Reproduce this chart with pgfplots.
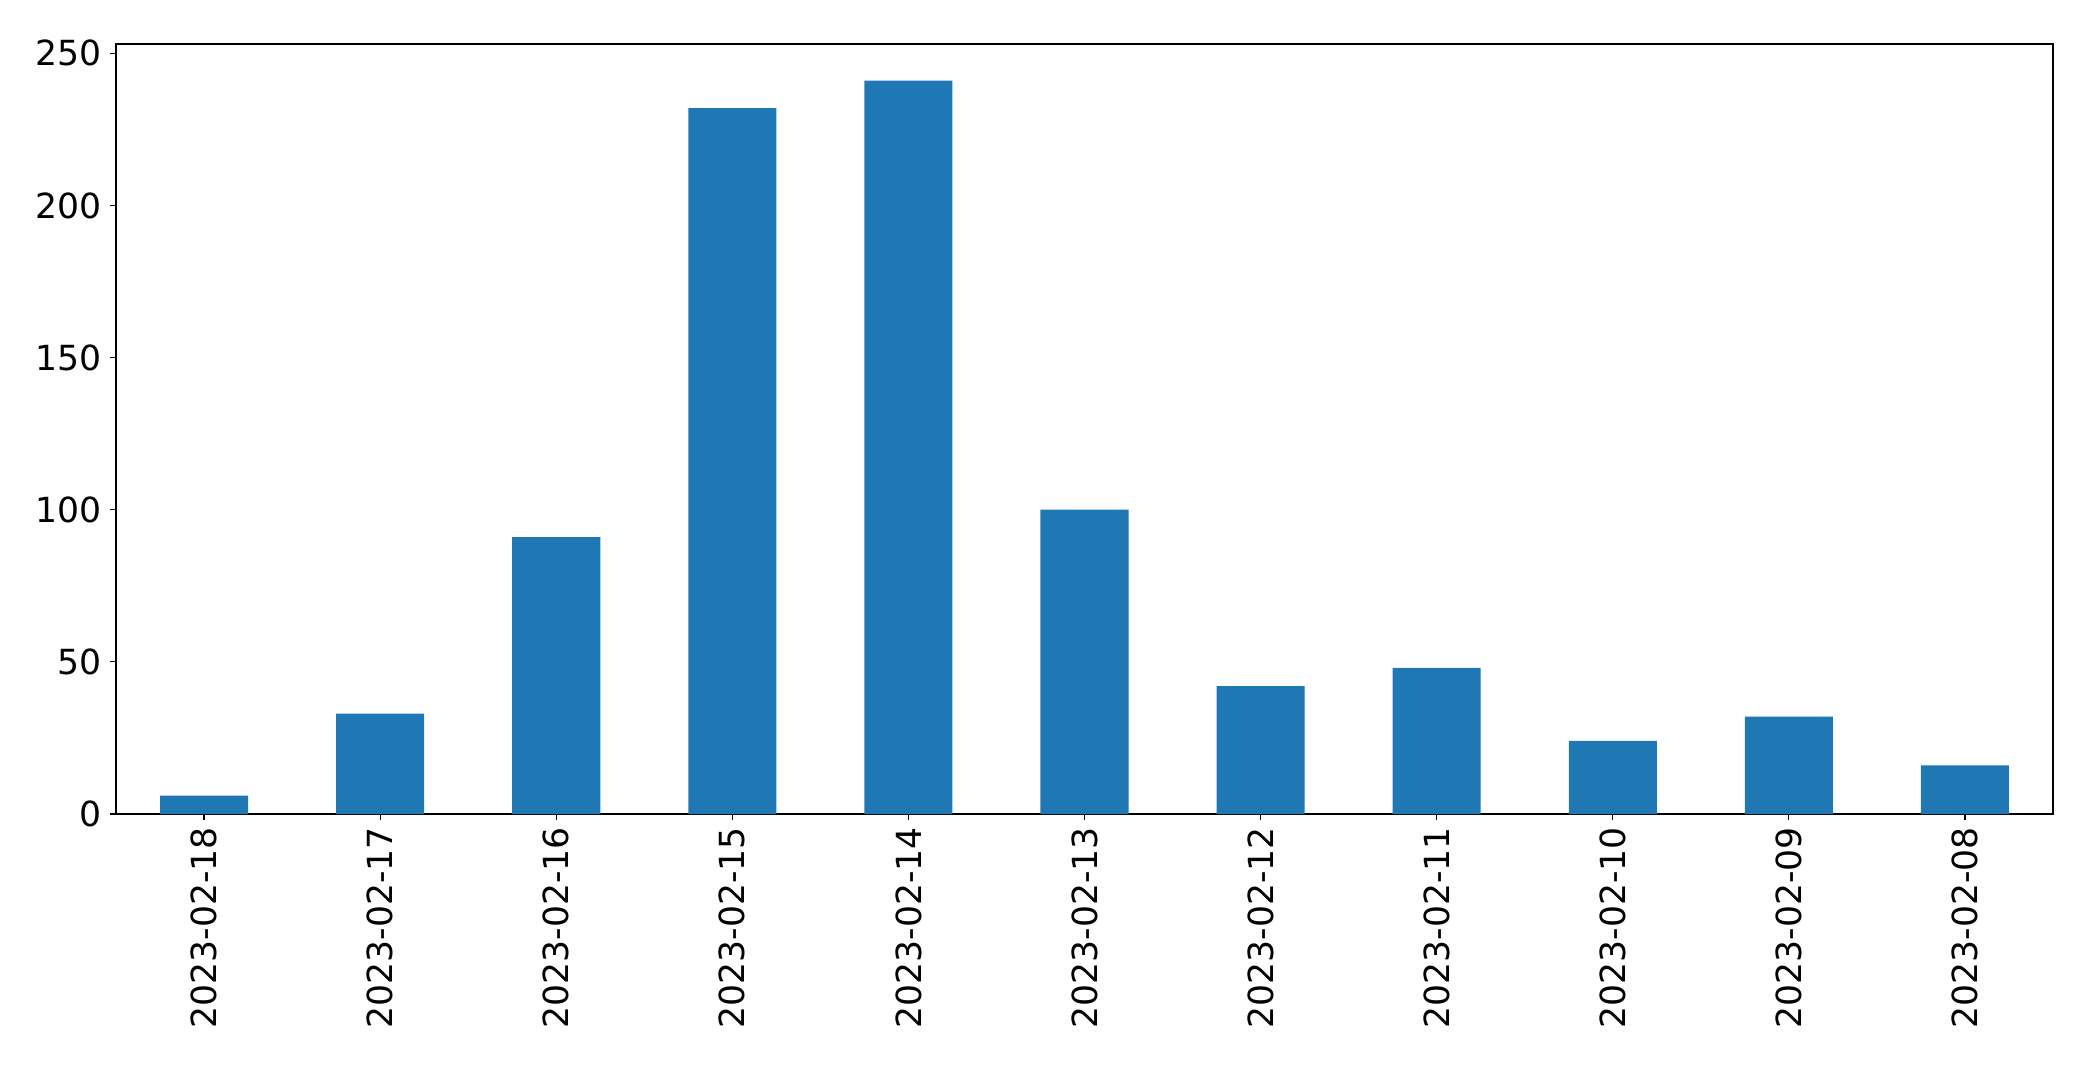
\documentclass[border=0pt]{standalone}
\usepackage{pgfplots}
\pgfplotsset{compat=1.18}
\usepackage{fontspec}
\setmainfont{DejaVu Sans}
\definecolor{mplblue}{HTML}{1F77B4}
\begin{document}
\begin{tikzpicture}
\begin{axis}[
  at={(0,0)}, anchor=south west,
  scale only axis,
  width=968.5pt, height=385pt,
  xmin=-0.5, xmax=10.5,
  ymin=0, ymax=253.05,
  xtick={0,1,2,3,4,5,6,7,8,9,10},
  xticklabels={2023-02-18,2023-02-17,2023-02-16,2023-02-15,2023-02-14,2023-02-13,2023-02-12,2023-02-11,2023-02-10,2023-02-09,2023-02-08},
  ytick={0,50,100,150,200,250},
  tick pos=left,
  tick align=outside,
  major tick length=3pt,
  tick style={black, line width=0.6pt},
  axis line style={line width=0.6pt},
  ticklabel style={font=\fontsize{17.3pt}{20pt}\selectfont},
  /pgf/number format/assume math mode=true,
  xticklabel style={rotate=90, anchor=east, inner sep=0pt, xshift=-3.5pt},
  yticklabel style={inner sep=0pt, xshift=-4pt},
  scaled y ticks=false,
  clip=false,
]
\addplot[ybar, bar width=0.5, fill=mplblue, draw=none] coordinates {
(0,6) (1,33) (2,91) (3,232) (4,241) (5,100) (6,42) (7,48) (8,24) (9,32) (10,16)
};
\end{axis}
\pgfresetboundingbox
\path (-58pt,-126pt) rectangle (988.5pt,407pt);
\end{tikzpicture}
\end{document}
